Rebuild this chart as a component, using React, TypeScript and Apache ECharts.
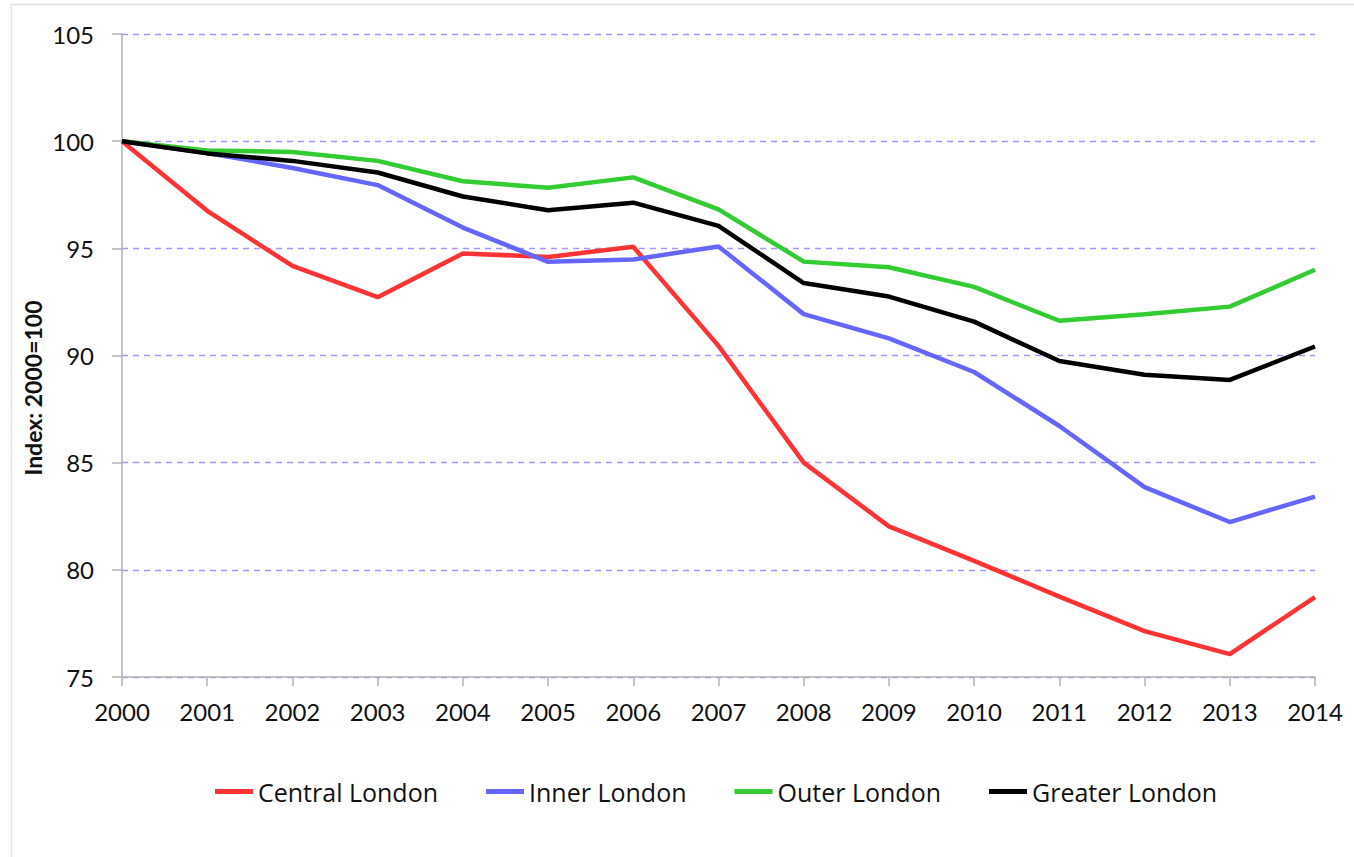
import React, { useEffect, useRef } from "react";
import * as echarts from "echarts";

const years = ["2000","2001","2002","2003","2004","2005","2006","2007","2008","2009","2010","2011","2012","2013","2014"];
const central = [100, 96.75, 94.18, 92.72, 94.76, 94.6, 95.07, 90.45, 85.0, 82.03, 80.42, 78.75, 77.14, 76.07, 78.73];
const inner = [100, 99.45, 98.75, 97.95, 95.97, 94.37, 94.48, 95.09, 91.93, 90.8, 89.23, 86.71, 83.86, 82.23, 83.42];
const outer = [100, 99.57, 99.49, 99.08, 98.13, 97.83, 98.31, 96.82, 94.38, 94.12, 93.2, 91.62, 91.93, 92.28, 94.0];
const greater = [100, 99.43, 99.08, 98.54, 97.42, 96.78, 97.13, 96.05, 93.38, 92.75, 91.58, 89.74, 89.1, 88.86, 90.42];
const yTicks = { min: 75, max: 105, interval: 5 };

const FONT = "Lato, 'Open Sans', sans-serif";
const LEGEND_FONT = "'Open Sans', Lato, sans-serif";

export default function App() {
  const ref = useRef<HTMLDivElement>(null);
  useEffect(() => {
    if (!ref.current) return;
    const chart = echarts.init(ref.current, null, { renderer: "svg" });
    const mk = (name: string, data: number[], color: string) => ({
      name,
      type: "line",
      data,
      symbol: "none",
      showSymbol: false,
      lineStyle: { color, width: 4.5 },
      itemStyle: { color },
    });
    chart.setOption({
      animation: false,
      backgroundColor: "#fff",
      textStyle: { fontFamily: FONT },
      grid: { left: 122, right: 39, top: 34, bottom: 180, containLabel: false },
      graphic: [
        {
          type: "rect",
          shape: { x: 11.5, y: 4.5, width: 1380, height: 900 },
          style: { fill: "none", stroke: "#e3e3e3", lineWidth: 1.5 },
          silent: true,
        },
        {
          type: "text",
          x: 33,
          y: 388,
          rotation: Math.PI / 2,
          style: {
            text: "Index: 2000=100",
            fontFamily: FONT,
            fontSize: 23,
            fontWeight: "bold",
            fill: "#111",
            align: "center",
            verticalAlign: "middle",
          },
        },
      ],
      legend: {
        left: 210,
        top: 774,
        icon: "rect",
        itemWidth: 38,
        itemHeight: 5,
        itemGap: 48,
        textStyle: { fontFamily: LEGEND_FONT, fontSize: 25, color: "#111" },
        data: ["Central London", "Inner London", "Outer London", "Greater London"],
      },
      xAxis: {
        type: "category",
        data: years,
        boundaryGap: false,
        axisLine: { lineStyle: { color: "#b3b3b3", width: 1.5 } },
        axisTick: { show: true, length: 9, lineStyle: { color: "#b3b3b3", width: 1.5 } },
        axisLabel: { color: "#111", fontSize: 24, fontFamily: FONT, margin: 22 },
        splitLine: { show: false },
      },
      yAxis: {
        type: "value",
        min: yTicks.min,
        max: yTicks.max,
        interval: yTicks.interval,
        axisLine: { show: true, lineStyle: { color: "#b3b3b3", width: 1.5 } },
        axisTick: { show: true, length: 10, lineStyle: { color: "#b3b3b3", width: 1.5 } },
        axisLabel: { color: "#111", fontSize: 24, fontFamily: FONT, margin: 28 },
        splitLine: { show: true, lineStyle: { color: "#a993ff", type: [6, 5], width: 1.3 } },
      },
      series: [
        mk("Central London", central, "#ff3333"),
        mk("Inner London", inner, "#6666ff"),
        mk("Outer London", outer, "#33cc33"),
        mk("Greater London", greater, "#000000"),
      ],
    });
    return () => chart.dispose();
  }, []);
  return (
    <div
      ref={ref}
      style={{ position: "absolute", left: 0, top: 0, width: 1354, height: 857 }}
    />
  );
}
